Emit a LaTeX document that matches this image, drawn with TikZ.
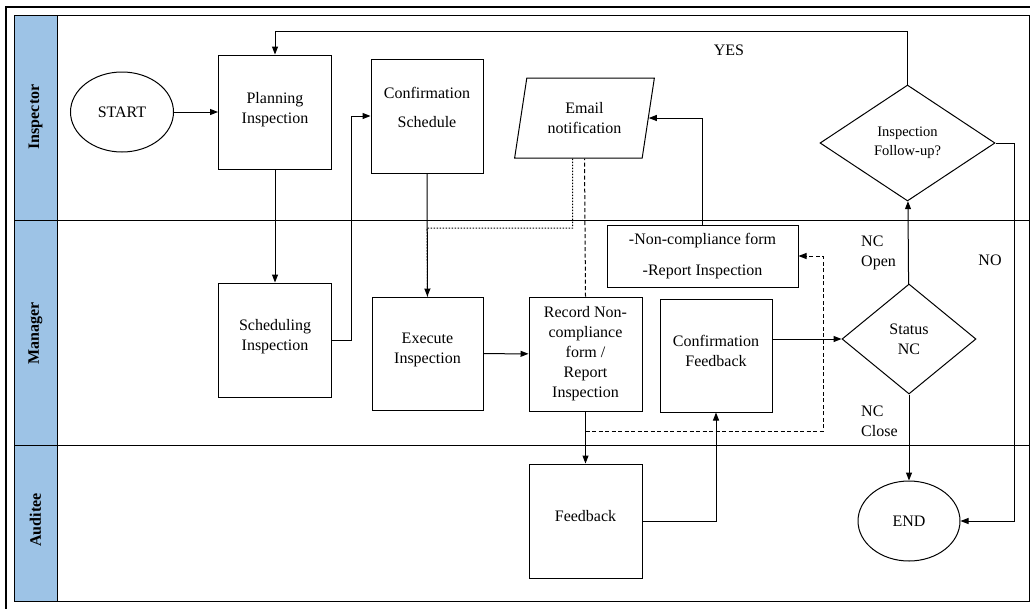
\documentclass[tikz,border=0pt]{standalone}
\usepackage{fontspec}
\setmainfont{Liberation Serif}
\newfontfamily\tnr{Liberation Serif}
\usetikzlibrary{shapes.geometric,arrows.meta,calc}
\definecolor{lanehead}{RGB}{157,195,230}
\begin{document}
\begin{tikzpicture}[x=1pt,y=-1pt,
  every node/.style={font=\tnr\fontsize{16}{20}\selectfont},
  ln/.style={line width=1pt},
  box/.style={draw,line width=1pt,align=center,inner sep=2pt,minimum width=113,minimum height=114},
  term/.style={draw,line width=1pt,ellipse,minimum width=103,minimum height=80,inner sep=0},
  dec/.style={draw,line width=1pt,diamond,align=center,inner sep=0},
  arr/.style={line width=1pt,-{Triangle[length=8pt,width=6pt]}},
  dotline/.style={line width=1pt,dash pattern=on 1.5pt off 1.5pt},
  dashline/.style={line width=1pt,dash pattern=on 4pt off 2.5pt},
  head/.style={draw,line width=1pt,fill=lanehead},
  headtext/.style={rotate=90,font=\tnr\fontsize{16}{20}\selectfont\bfseries},
  lbl/.style={align=left,inner sep=0}
]
\useasboundingbox (0,0) rectangle (1030,608);
% outer frame
\draw[line width=1.3pt] (6,612) -- (6,7) -- (1034,7);
% swimlanes
\draw[ln] (14,15) rectangle (1029,601);
\draw[ln] (14,220) -- (1029,220);
\draw[ln] (14,445) -- (1029,445);
\draw[head] (14,15) rectangle (57,220);
\draw[head] (14,220) rectangle (57,445);
\draw[head] (14,445) rectangle (57,601);
\node[headtext] (hins) at (35.5,117) {Inspector};
\node[headtext] (hman) at (35.5,333) {Manager};
\node[headtext] (haud) at (35.5,520) {Auditee};

% nodes
\node[term] (start) at (122,112) {START};
\node[box] (plan) at (275,112) {Planning\\Inspection\\[-11pt]\mbox{}};
\node[box] (sched) at (275,340) {Scheduling\\Inspection\\[-9pt]\mbox{}};
\node[box,minimum width=112] (confs) at (427,116) {Confirmation\\[9pt]Schedule\\[-3pt]\mbox{}};
\node[draw,line width=1pt,trapezium,trapezium stretches=true,trapezium left angle=76,trapezium right angle=104,
      minimum width=141,minimum height=80,align=center,inner sep=0] (email) at (584.5,118) {Email\\notification};
\node[box,minimum width=111,minimum height=113] (exec) at (427.5,353.5) {Execute\\Inspection\\[-9pt]\mbox{}};
\node[box] (record) at (585.5,354) {Record Non-\\compliance\\form /\\Report\\Inspection};
\node[box,minimum width=191,minimum height=62] (ncf) at (702.5,256) {-Non-compliance form\\[11pt]-Report Inspection};
\node[box,minimum width=112,minimum height=113] (cfb) at (716,355.5) {Confirmation\\Feedback\\[-10pt]\mbox{}};
\node[box] (fb) at (585.5,521) {Feedback\\[-10pt]\mbox{}};
\node[dec,minimum width=134,minimum height=110] (status) at (909,339) {Status\\NC};
\node[dec,minimum width=175,minimum height=116,font=\tnr\fontsize{14.5}{19}\selectfont] (follow) at (907.5,143) {Inspection\\Follow-up?};
\node[term,minimum width=102] (end) at (909,521) {END};

% helper coordinates
\coordinate (ytop) at (0,31);
\coordinate (xno) at (1014,0);
\coordinate (dotjoin) at (427,228);
\coordinate (dotstart) at ($(email.south)+(-12,0)$);
\coordinate (dstart) at (585.5,431);
\coordinate (dcorner) at (823,431);

% connectors
\draw[arr] (start) -- (plan);
\draw[arr] (plan) -- (sched);
\draw[arr] (sched.east) -- ++(19,0) |- (confs.west);
\draw[arr] (confs) -- (exec);
\draw[dotline] (dotstart) |- (dotjoin) -- (exec.north);
\draw[dashline] (record.north) -- (email.south);
\draw[arr] (exec) -- (record);
\draw[arr] (record) -- (fb);
\draw[arr] (fb.east) -| (cfb.south);
\draw[arr] (cfb.east |- status.west) -- (status.west);
\draw[arr] (status) -- (follow);
\draw[arr] (follow.north) |- (ytop -| plan.north) -- (plan.north);
\draw[arr] (follow.east) -- (xno |- follow.east) |- (end.east);
\draw[arr] (status) -- (end);
\draw[arr] (ncf.north) |- (email.east);
\draw[dashline,-{Triangle[length=8pt,width=6pt]}] (dstart) -- (dcorner) |- (ncf.east);

% labels
\node[lbl] (yes) at (729,50) {YES};
\node[lbl] (no) at (990,260) {NO};
\node[lbl,anchor=west] (ncopen) at (861,253) {NC\\Open};
\node[lbl,anchor=west] (ncclose) at (861,421) {NC\\Close};
\end{tikzpicture}
\end{document}
